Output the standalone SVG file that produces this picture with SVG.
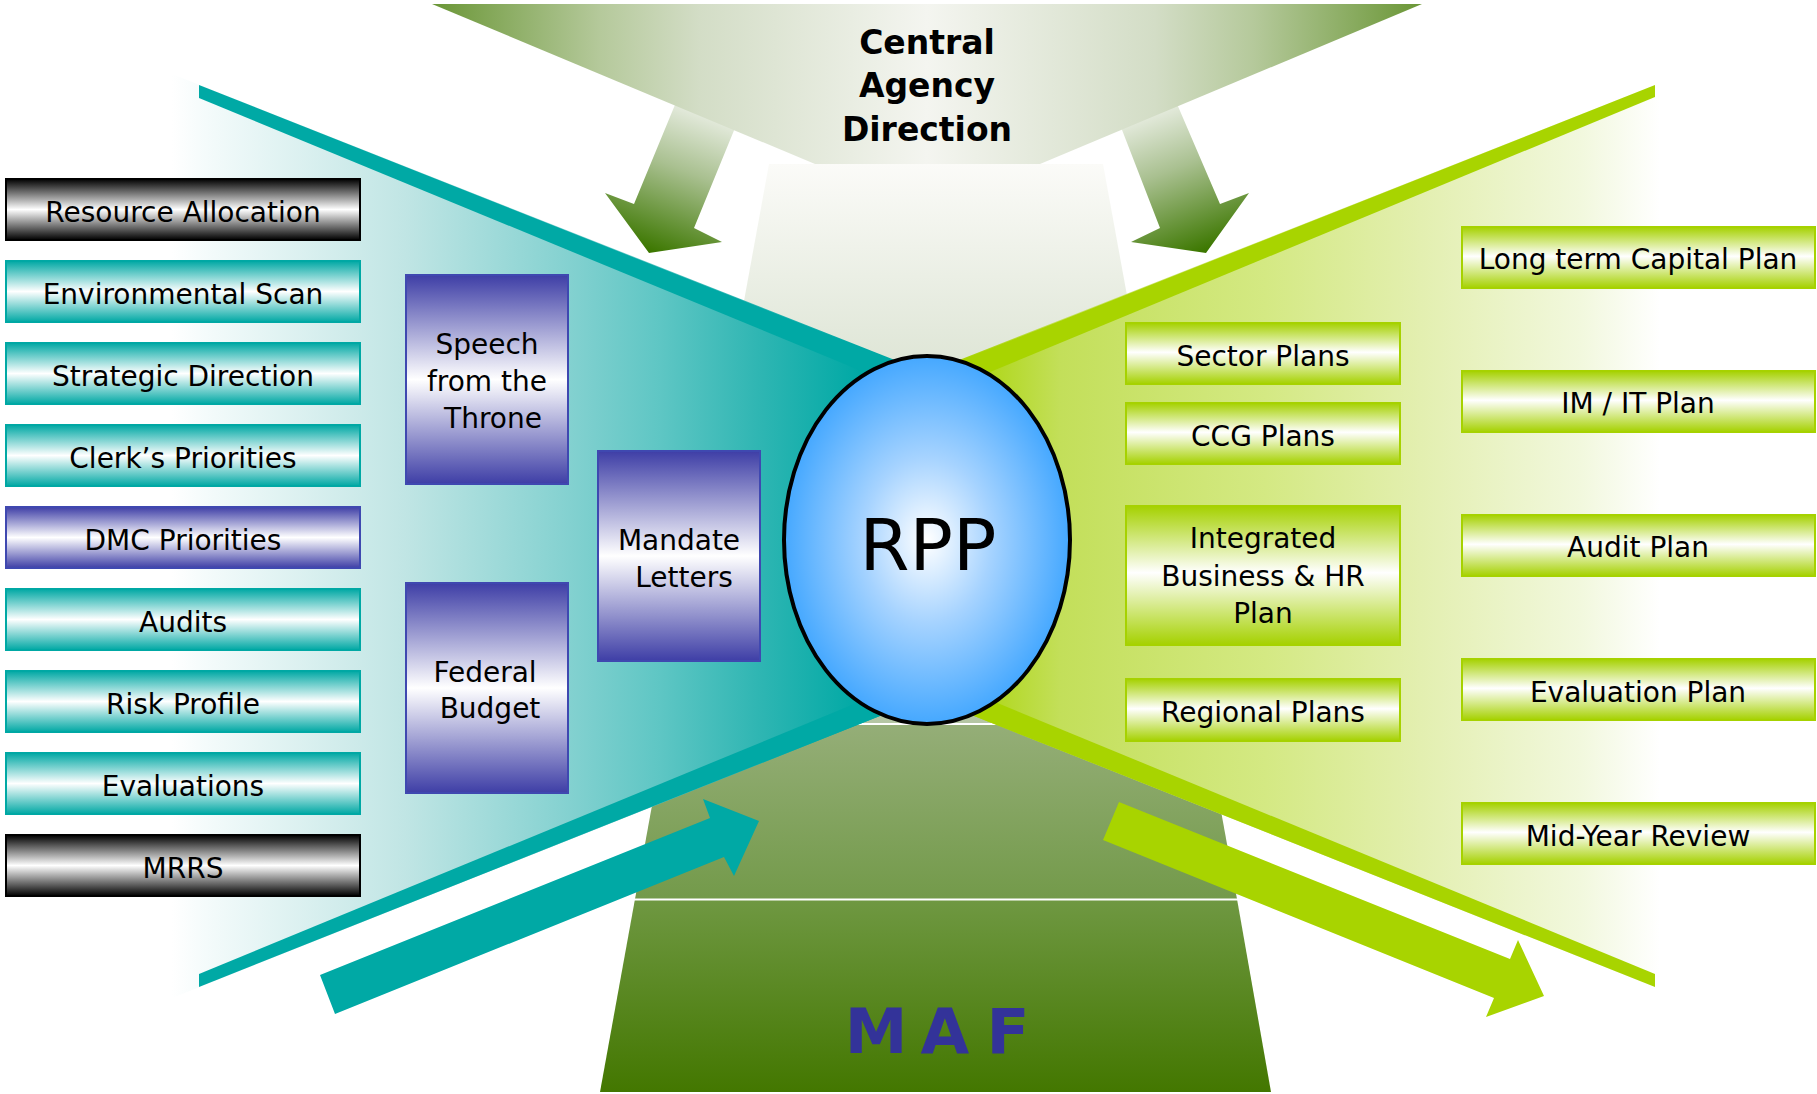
<svg xmlns="http://www.w3.org/2000/svg" width="1817" height="1094" viewBox="0 0 1817 1094">
<defs>
<style>
.t{font-family:"DejaVu Sans","Liberation Sans",sans-serif;font-size:28px;fill:#000;text-anchor:middle}
.hd{font-family:"DejaVu Sans","Liberation Sans",sans-serif;font-size:33px;font-weight:bold;fill:#000;text-anchor:middle}
.teal{fill:url(#gTeal);stroke:#00a8a4;stroke-width:2}
.blk{fill:url(#gBlk);stroke:#000;stroke-width:2}
.pur{fill:url(#gPur);stroke:#3f48b0;stroke-width:2}
.lime{fill:url(#gLime);stroke:#a6d200;stroke-width:2}
</style>
<linearGradient id="gTeal" x1="0" y1="0" x2="0" y2="1"><stop offset="0" stop-color="#00a8a4"/><stop offset="0.5" stop-color="#ffffff"/><stop offset="1" stop-color="#00a8a4"/></linearGradient>
<linearGradient id="gBlk" x1="0" y1="0" x2="0" y2="1"><stop offset="0" stop-color="#000"/><stop offset="0.5" stop-color="#ffffff"/><stop offset="1" stop-color="#000"/></linearGradient>
<linearGradient id="gPur" x1="0" y1="0" x2="0" y2="1"><stop offset="0" stop-color="#3e3ea6"/><stop offset="0.5" stop-color="#ffffff"/><stop offset="1" stop-color="#3e3ea6"/></linearGradient>
<linearGradient id="gLime" x1="0" y1="0" x2="0" y2="1"><stop offset="0" stop-color="#a5d100"/><stop offset="0.48" stop-color="#ffffff"/><stop offset="1" stop-color="#a5d100"/></linearGradient>
<linearGradient id="gTop" gradientUnits="userSpaceOnUse" x1="432" y1="0" x2="1422" y2="0"><stop offset="0" stop-color="#6a9636"/><stop offset="0.17" stop-color="#b5c99b"/><stop offset="0.27" stop-color="#d3ddc6"/><stop offset="0.5" stop-color="#f4f5f0"/><stop offset="0.73" stop-color="#d3ddc6"/><stop offset="0.83" stop-color="#b5c99b"/><stop offset="1" stop-color="#6a9636"/></linearGradient>
<linearGradient id="gPale" gradientUnits="userSpaceOnUse" x1="0" y1="164" x2="0" y2="723"><stop offset="0" stop-color="#fbfbf8"/><stop offset="0.35" stop-color="#dfe6d7"/><stop offset="1" stop-color="#b5c6a4"/></linearGradient>
<linearGradient id="gMid" gradientUnits="userSpaceOnUse" x1="0" y1="723" x2="0" y2="899"><stop offset="0" stop-color="#95ae78"/><stop offset="1" stop-color="#739a4a"/></linearGradient>
<linearGradient id="gBot" gradientUnits="userSpaceOnUse" x1="0" y1="899" x2="0" y2="1092"><stop offset="0" stop-color="#6f9842"/><stop offset="1" stop-color="#437700"/></linearGradient>
<linearGradient id="gArrL" gradientUnits="userSpaceOnUse" x1="712" y1="105" x2="655" y2="253"><stop offset="0" stop-color="#f0f3ec"/><stop offset="0.45" stop-color="#a9c090"/><stop offset="1" stop-color="#3c7700"/></linearGradient>
<linearGradient id="gArrR" gradientUnits="userSpaceOnUse" x1="1142" y1="105" x2="1199" y2="253"><stop offset="0" stop-color="#f0f3ec"/><stop offset="0.45" stop-color="#a9c090"/><stop offset="1" stop-color="#3c7700"/></linearGradient>
<linearGradient id="gFillL" gradientUnits="userSpaceOnUse" x1="172" y1="0" x2="860" y2="0"><stop offset="0" stop-color="#ffffff"/><stop offset="0.05" stop-color="#f4fbfb"/><stop offset="0.34" stop-color="#c0e5e4"/><stop offset="0.59" stop-color="#80d0cf"/><stop offset="0.71" stop-color="#5ec6c4"/><stop offset="0.85" stop-color="#30b6b3"/><stop offset="1" stop-color="#00a9a5"/></linearGradient>
<linearGradient id="gFillR" gradientUnits="userSpaceOnUse" x1="955" y1="0" x2="1660" y2="0"><stop offset="0" stop-color="#a8d400"/><stop offset="0.15" stop-color="#c3df5a"/><stop offset="0.44" stop-color="#d4e983"/><stop offset="0.66" stop-color="#e3efb0"/><stop offset="0.89" stop-color="#f2f8de"/><stop offset="1" stop-color="#ffffff"/></linearGradient>
<radialGradient id="gRpp" cx="0.5" cy="0.5" r="0.5"><stop offset="0" stop-color="#ffffff"/><stop offset="0.45" stop-color="#a6d3ff"/><stop offset="1" stop-color="#45a8ff"/></radialGradient>
</defs>
<rect width="1817" height="1094" fill="#ffffff"/>

<g id="background">
<polygon points="769,164 1103,164 1205,723 667,723" fill="url(#gPale)"/>
<polygon points="667,723 1205,723 1237,899 635,899" fill="url(#gMid)"/>
<polygon points="635,899 1237,899 1271,1092 600,1092" fill="url(#gBot)"/>
<line x1="630" y1="724" x2="1240" y2="724" stroke="#fff" stroke-width="2"/>
<line x1="630" y1="899.5" x2="1240" y2="899.5" stroke="#fff" stroke-width="2"/>
<polygon points="172,74 920,370 920,700 172,998" fill="url(#gFillL)"/>
<polygon points="934,370 1660,83 1660,989 934,700" fill="url(#gFillR)"/>
<polygon points="199,85 910,367 910,391 199,98" fill="#00a9a5"/>
<polygon points="199,974 910,681 910,704 199,987" fill="#00a9a5"/>
<polygon points="1655,85 944,367 944,391 1655,97" fill="#a8d400"/>
<polygon points="1655,974 944,681 944,704 1655,987" fill="#a8d400"/>
</g>

<g id="connectors">
<polygon points="684,83 744,106 694,228 722,242 649,253 605,193 634,204" fill="url(#gArrL)"/>
<polygon points="1168,83 1220,204 1249,193 1206,253 1131,242 1160,228 1112,104" fill="url(#gArrR)"/>
<polygon points="320,975 710,818 703,799 759,821 734,876 724,857 335,1014" fill="#00a9a5"/>
<polygon points="1119,802 1510,959 1518,940 1544,996 1486,1017 1494,998 1103,840" fill="#a8d400"/>
</g>

<g id="central-agency">
<polygon points="432,4 1422,4 1040,164 815,164" fill="url(#gTop)"/>
<text class="hd" x="927" y="54">Central</text>
<text class="hd" x="927" y="97">Agency</text>
<text class="hd" x="927" y="141">Direction</text>
</g>

<g id="rpp">
<ellipse cx="927" cy="540" rx="143" ry="184" fill="url(#gRpp)" stroke="#000" stroke-width="4"/>
<text x="928" y="570" font-family="DejaVu Sans, Liberation Sans, sans-serif" font-size="72" text-anchor="middle" fill="#000">RPP</text>
</g>

<g id="maf">
<text font-family="DejaVu Sans, Liberation Sans, sans-serif" font-size="63" font-weight="bold" fill="#333399" y="1053" text-anchor="middle"><tspan x="876">M</tspan><tspan x="945">A</tspan><tspan x="1008">F</tspan></text>
</g>

<g id="resource-allocation"><rect class="blk" x="6" y="179" width="354" height="61"/><text class="t" x="183" y="222">Resource Allocation</text></g>
<g id="environmental-scan"><rect class="teal" x="6" y="261" width="354" height="61"/><text class="t" x="183" y="304">Environmental Scan</text></g>
<g id="strategic-direction"><rect class="teal" x="6" y="343" width="354" height="61"/><text class="t" x="183" y="386">Strategic Direction</text></g>
<g id="clerks-priorities"><rect class="teal" x="6" y="425" width="354" height="61"/><text class="t" x="183" y="468">Clerk’s Priorities</text></g>
<g id="dmc-priorities"><rect class="pur" x="6" y="507" width="354" height="61"/><text class="t" x="183" y="550">DMC Priorities</text></g>
<g id="audits"><rect class="teal" x="6" y="589" width="354" height="61"/><text class="t" x="183" y="632">Audits</text></g>
<g id="risk-profile"><rect class="teal" x="6" y="671" width="354" height="61"/><text class="t" x="183" y="714">Risk Profile</text></g>
<g id="evaluations"><rect class="teal" x="6" y="753" width="354" height="61"/><text class="t" x="183" y="796">Evaluations</text></g>
<g id="mrrs"><rect class="blk" x="6" y="835" width="354" height="61"/><text class="t" x="183" y="878">MRRS</text></g>

<g id="speech-from-the-throne"><rect class="pur" x="406" y="275" width="162" height="209"/><text class="t" x="487" y="354">Speech</text><text class="t" x="487" y="391">from the</text><text class="t" x="493" y="428">Throne</text></g>
<g id="mandate-letters"><rect class="pur" x="598" y="451" width="162" height="210"/><text class="t" x="679" y="550">Mandate</text><text class="t" x="684" y="587">Letters</text></g>
<g id="federal-budget"><rect class="pur" x="406" y="583" width="162" height="210"/><text class="t" x="485" y="682">Federal</text><text class="t" x="490" y="718">Budget</text></g>

<g id="sector-plans"><rect class="lime" x="1126" y="323" width="274" height="61"/><text class="t" x="1263" y="366">Sector Plans</text></g>
<g id="ccg-plans"><rect class="lime" x="1126" y="403" width="274" height="61"/><text class="t" x="1263" y="446">CCG Plans</text></g>
<g id="integrated-plan"><rect class="lime" x="1126" y="506" width="274" height="139"/><text class="t" x="1263" y="548">Integrated</text><text class="t" x="1263" y="586">Business &amp; HR</text><text class="t" x="1263" y="623">Plan</text></g>
<g id="regional-plans"><rect class="lime" x="1126" y="679" width="274" height="62"/><text class="t" x="1263" y="722">Regional Plans</text></g>

<g id="long-term-capital-plan"><rect class="lime" x="1462" y="227" width="353" height="61"/><text class="t" x="1638" y="269">Long term Capital Plan</text></g>
<g id="im-it-plan"><rect class="lime" x="1462" y="371" width="353" height="61"/><text class="t" x="1638" y="413">IM / IT Plan</text></g>
<g id="audit-plan"><rect class="lime" x="1462" y="515" width="353" height="61"/><text class="t" x="1638" y="557">Audit Plan</text></g>
<g id="evaluation-plan"><rect class="lime" x="1462" y="659" width="353" height="61"/><text class="t" x="1638" y="702">Evaluation Plan</text></g>
<g id="mid-year-review"><rect class="lime" x="1462" y="803" width="353" height="61"/><text class="t" x="1638" y="846">Mid-Year Review</text></g>
</svg>
